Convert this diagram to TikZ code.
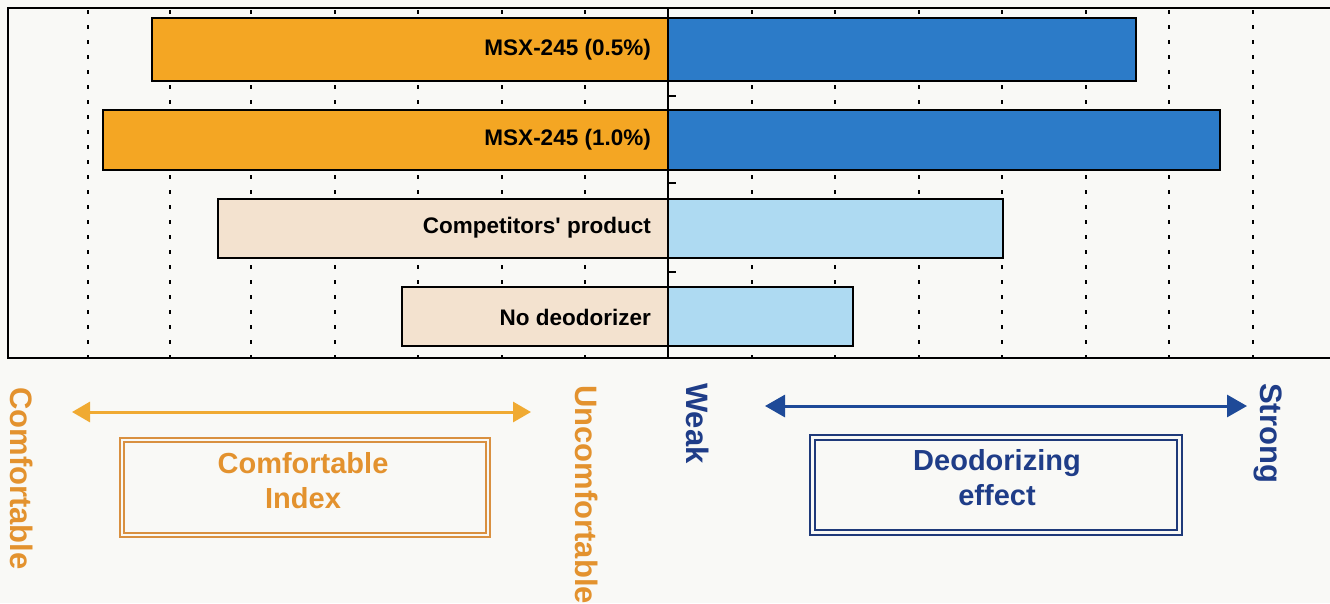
\documentclass[tikz,border=0pt]{standalone}
\usepackage{fontspec}
\setmainfont{Liberation Sans}
\usetikzlibrary{arrows.meta}
\definecolor{bg}{HTML}{F9F9F6}
\definecolor{barorange}{HTML}{F4A623}
\definecolor{barblue}{HTML}{2C7BC8}
\definecolor{lightblue}{HTML}{AEDAF2}
\definecolor{beige}{HTML}{F3E2CF}
\definecolor{otext}{HTML}{E3922E}
\definecolor{oarrow}{HTML}{F0AA32}
\definecolor{obox}{HTML}{D99040}
\definecolor{btext}{HTML}{1F3D88}
\definecolor{barrow}{HTML}{1E4A98}
\definecolor{bbox}{HTML}{1F3A7A}
\begin{document}
\begin{tikzpicture}[x=1pt,y=-1pt,
  gridline/.style={line width=2.2pt, dash pattern=on 4pt off 11pt},
  barbox/.style={draw=black, line width=2pt},
  barlab/.style={font=\bfseries\fontsize{22.5}{26}\selectfont, anchor=east, inner sep=0pt},
  sidelab/.style={font=\bfseries\fontsize{31}{36}\selectfont, rotate=-90, anchor=west, inner sep=0pt},
  boxlab/.style={font=\bfseries\fontsize{29}{35}\selectfont, align=center, inner sep=0pt},
  tickmark/.style={line width=1.5pt}
]
\clip (0,0) rectangle (1330,603);
\fill[bg] (0,0) rectangle (1330,603);
% grid
\foreach \x in {88,170,251,335,418,502,585,752,835,919,1002,1086,1169,1253}
  \draw[gridline] (\x,10) -- (\x,357);
% bars
\draw[barbox, fill=barorange] (152,18) rectangle (668,81);
\draw[barbox, fill=barblue] (668,18) rectangle (1136,81);
\draw[barbox, fill=barorange] (103,110) rectangle (668,170);
\draw[barbox, fill=barblue] (668,110) rectangle (1220,170);
\draw[barbox, fill=beige] (218,199) rectangle (668,258);
\draw[barbox, fill=lightblue] (668,199) rectangle (1003,258);
\draw[barbox, fill=beige] (402,287) rectangle (668,346);
\draw[barbox, fill=lightblue] (668,287) rectangle (853,346);
% frame and axis
\draw[line width=2pt] (8,8) rectangle (1350,358);
\draw[line width=2pt] (668,8) -- (668,358);
\foreach \y in {96,183,272}
  \draw[tickmark] (668,\y) -- (676,\y);
% bar labels
\node[barlab] (l1) at (651,50) {MSX-245 (0.5\%)};
\node[barlab] (l2) at (651,140) {MSX-245 (1.0\%)};
\node[barlab] (l3) at (651,228) {Competitors\textquotesingle{} product};
\node[barlab] (l4) at (651,317) {No deodorizer};
% comfortable index
\node[sidelab, text=otext] (comf) at (22,387) {Comfortable};
\node[sidelab, text=otext] (uncomf) at (587,385) {Uncomfortable};
\coordinate (oa1) at (72,412);
\coordinate (oa2) at (531,412);
\draw[oarrow, line width=3pt, {Triangle[length=18pt,width=20pt]}-{Triangle[length=18pt,width=20pt]}] (oa1) -- (oa2);
\draw[obox, line width=1.6pt] (120,438) rectangle (490,537);
\draw[obox, line width=1.4pt] (124,442) rectangle (486,533);
\node[boxlab, text=otext] (cidx) at (303,481) {Comfortable\\Index};
% deodorizing effect
\node[sidelab, text=btext] (weak) at (698,383) {Weak};
\node[sidelab, text=btext] (strong) at (1268,383) {Strong};
\coordinate (ba1) at (765,406);
\coordinate (ba2) at (1247,406);
\draw[barrow, line width=3pt, {Triangle[length=20pt,width=22pt]}-{Triangle[length=20pt,width=22pt]}] (ba1) -- (ba2);
\draw[bbox, line width=2.4pt] (810,435) rectangle (1182,535);
\draw[bbox, line width=1.4pt] (815,440) rectangle (1177,530);
\node[boxlab, text=btext] (deo) at (997,478) {Deodorizing\\effect};
\end{tikzpicture}
\end{document}
